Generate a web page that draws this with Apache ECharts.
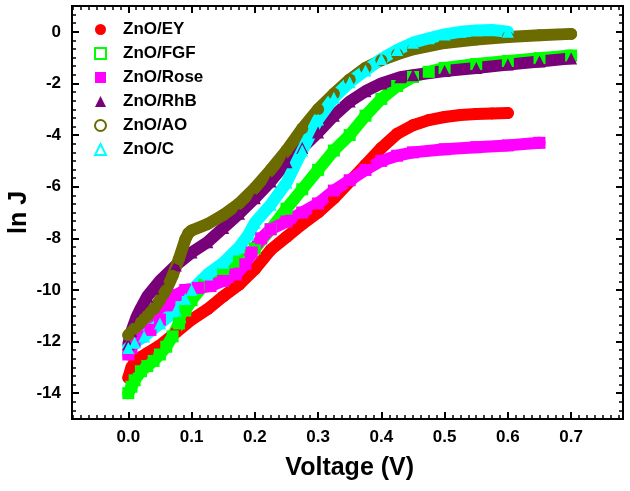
<!DOCTYPE html>
<html>
<head>
<meta charset="utf-8">
<script src="https://cdn.jsdelivr.net/npm/echarts@6/dist/echarts.min.js"></script>
<style>
  html, body { margin: 0; padding: 0; background: #fff; }
  #chart { width: 630px; height: 491px; }
</style>
</head>
<body>
<div id="chart"></div>
<script>
// ln J versus applied voltage for ZnO films sensitised with different dyes
const seriesNames = ['ZnO/EY', 'ZnO/FGF', 'ZnO/Rose', 'ZnO/RhB', 'ZnO/AO', 'ZnO/C'];

const vEY   = [0, 0.005, 0.01, 0.02, 0.03, 0.05, 0.075, 0.10, 0.125, 0.15, 0.175, 0.20, 0.225, 0.25, 0.275, 0.30, 0.325, 0.35, 0.375, 0.40, 0.425, 0.45, 0.475, 0.50, 0.525, 0.55, 0.575, 0.60];
const lnjEY = [-13.4, -13.0, -12.8, -12.6, -12.45, -12.15, -11.65, -11.15, -10.75, -10.25, -9.8, -9.2, -8.45, -7.95, -7.45, -7.0, -6.45, -5.8, -5.15, -4.5, -3.95, -3.62, -3.42, -3.3, -3.22, -3.18, -3.16, -3.15];

const vFGF   = [0, 0.005, 0.01, 0.02, 0.03, 0.04, 0.05, 0.06, 0.07, 0.08, 0.09, 0.10, 0.12, 0.15, 0.175, 0.20, 0.225, 0.25, 0.275, 0.30, 0.325, 0.35, 0.375, 0.40, 0.425, 0.45, 0.475, 0.50, 0.55, 0.60, 0.65, 0.70];
const lnjFGF = [-14.0, -13.75, -13.5, -13.15, -12.95, -12.75, -12.5, -12.2, -11.8, -11.3, -10.8, -10.4, -9.8, -9.35, -8.9, -8.4, -7.65, -6.85, -6.1, -5.35, -4.6, -4.0, -3.25, -2.6, -2.1, -1.75, -1.55, -1.4, -1.25, -1.13, -1.02, -0.92];

const vRose   = [0, 0.005, 0.01, 0.02, 0.035, 0.05, 0.065, 0.075, 0.09, 0.11, 0.13, 0.15, 0.17, 0.185, 0.195, 0.21, 0.225, 0.25, 0.275, 0.30, 0.325, 0.35, 0.375, 0.40, 0.425, 0.45, 0.50, 0.55, 0.60, 0.65];
const lnjRose = [-12.5, -12.25, -12.0, -11.8, -11.55, -11.15, -10.6, -10.2, -10.0, -9.92, -9.85, -9.65, -9.4, -9.0, -8.55, -8.0, -7.65, -7.35, -7.0, -6.65, -6.15, -5.75, -5.35, -5.0, -4.8, -4.67, -4.55, -4.47, -4.4, -4.3];

const vRhB   = [0, 0.005, 0.013, 0.02, 0.03, 0.04, 0.05, 0.075, 0.10, 0.125, 0.15, 0.175, 0.20, 0.225, 0.25, 0.275, 0.30, 0.325, 0.35, 0.375, 0.40, 0.43, 0.45, 0.50, 0.55, 0.60, 0.65, 0.70];
const lnjRhB = [-12.1, -11.6, -11.05, -10.7, -10.25, -9.95, -9.65, -9.05, -8.55, -8.15, -7.6, -7.05, -6.45, -5.8, -5.05, -4.5, -3.9, -3.25, -2.7, -2.3, -2.0, -1.76, -1.68, -1.52, -1.4, -1.27, -1.15, -1.03];

const vAO   = [0, 0.01, 0.02, 0.03, 0.04, 0.05, 0.06, 0.07, 0.08, 0.09, 0.095, 0.10, 0.125, 0.15, 0.175, 0.20, 0.225, 0.25, 0.275, 0.30, 0.325, 0.35, 0.375, 0.40, 0.425, 0.45, 0.50, 0.55, 0.60, 0.65, 0.70];
const lnjAO = [-11.75, -11.5, -11.25, -11.0, -10.75, -10.4, -10.0, -9.45, -8.8, -8.05, -7.8, -7.7, -7.45, -7.1, -6.65, -6.05, -5.35, -4.6, -3.75, -3.0, -2.4, -1.85, -1.4, -1.1, -0.87, -0.68, -0.43, -0.3, -0.2, -0.13, -0.08];

const vC   = [0, 0.01, 0.025, 0.05, 0.075, 0.09, 0.10, 0.125, 0.15, 0.175, 0.19, 0.20, 0.225, 0.25, 0.275, 0.30, 0.325, 0.35, 0.375, 0.40, 0.425, 0.45, 0.475, 0.50, 0.525, 0.55, 0.575, 0.60];
const lnjC = [-12.25, -12.05, -11.8, -11.3, -10.8, -10.35, -10.0, -9.4, -8.95, -8.35, -7.85, -7.4, -6.7, -5.85, -4.6, -3.4, -2.55, -1.95, -1.5, -1.05, -0.7, -0.42, -0.25, -0.1, 0.0, 0.05, 0.07, 0.0];

const seriesV   = [vEY, vFGF, vRose, vRhB, vAO, vC];
const seriesLnJ = [lnjEY, lnjFGF, lnjRose, lnjRhB, lnjAO, lnjC];
const seriesColors  = ['#ff0000', '#00ff00', '#ff00ff', '#780078', '#6b6b00', '#00ffff'];
// legend markers (hollow where the key shows open symbols)
const legendSymbols = ['circle', 'emptyRect', 'rect', 'triangle', 'emptyCircle', 'emptyTriangle'];
// markers along the dense curves, which merge into a solid band
const curveSymbols  = ['circle', 'rect', 'rect', 'triangle', 'circle', 'triangle'];

// axis ranges and tick steps
const X_RANGE = [-0.089, 0.782];
const Y_RANGE = [-15, 1];
const X_MAJOR = [0, 0.7, 0.1];     // labelled ticks: from, to, step
const Y_MAJOR = [-14, 0, 2];
const X_MINOR_STEP = 0.0125;       // 8 sub-intervals per 0.1 V
const X_MINOR = [-0.0875, 0.775];
const Y_MINOR_DIV = 3;             // minor ticks every 1/3 unit

// plot frame in pixels
const FRAME = { left: 72, top: 6, right: 623, bottom: 419 };
const FONT = '"Liberation Sans", Arial, Helvetica, sans-serif';

function px(v) {
  return FRAME.left + (v - X_RANGE[0]) / (X_RANGE[1] - X_RANGE[0]) * (FRAME.right - FRAME.left);
}
function py(v) {
  return FRAME.bottom - (v - Y_RANGE[0]) / (Y_RANGE[1] - Y_RANGE[0]) * (FRAME.bottom - FRAME.top);
}

const chart = echarts.init(document.getElementById('chart'), null, { renderer: 'canvas' });

const frameH = FRAME.bottom - FRAME.top;
const minorL = px(X_MINOR[0]), minorR = px(X_MINOR[1]);
const majL = px(X_MAJOR[0]), majR = px(X_MAJOR[1]);
const majT = py(Y_MAJOR[1]), majB = py(Y_MAJOR[0]);

const minorTick = { show: true, inside: true, length: 4, lineStyle: { color: '#000', width: 1.5 } };
const majorTick = { show: true, inside: true, length: 7, lineStyle: { color: '#000', width: 2 } };
const noLine = { show: false, onZero: false };
const labelStyle = { color: '#000', fontFamily: FONT, fontWeight: 'bold', fontSize: 17 };

const xMinorAxis = (pos) => ({
  gridIndex: 1, type: 'value', position: pos,
  min: Math.round(X_MINOR[0] / X_MINOR_STEP), max: Math.round(X_MINOR[1] / X_MINOR_STEP), interval: 1,
  axisLine: noLine, axisTick: minorTick, axisLabel: { show: false }, splitLine: { show: false }
});
const yMinorAxis = (pos, off) => ({
  gridIndex: 1, type: 'value', position: pos, offset: off,
  min: Y_RANGE[0] * Y_MINOR_DIV, max: Y_RANGE[1] * Y_MINOR_DIV, interval: 1,
  axisLine: noLine, axisTick: minorTick, axisLabel: { show: false }, splitLine: { show: false }
});

const series = seriesNames.map((name, i) => ({
  name: name,
  type: 'line',
  xAxisIndex: 0,
  yAxisIndex: 0,
  data: seriesV[i].map((v, k) => [v, seriesLnJ[i][k]]),
  symbol: curveSymbols[i],
  symbolSize: 12,
  showAllSymbol: true,
  lineStyle: { color: seriesColors[i], width: 12, cap: 'round', join: 'round' },
  itemStyle: { color: seriesColors[i], borderColor: seriesColors[i], borderWidth: 0 },
  emphasis: { disabled: true },
  clip: true
}));

const gridBase = { outerBoundsMode: 'none', containLabel: false };

chart.setOption({
  animation: false,
  backgroundColor: '#fff',
  grid: [
    Object.assign({ left: FRAME.left, top: FRAME.top, width: FRAME.right - FRAME.left, height: frameH,
      show: true, borderColor: '#000', borderWidth: 2, backgroundColor: 'transparent' }, gridBase),
    Object.assign({ left: minorL, top: FRAME.top, width: minorR - minorL, height: frameH }, gridBase),
    Object.assign({ left: majL, top: majT, width: majR - majL, height: majB - majT }, gridBase)
  ],
  xAxis: [
    { gridIndex: 0, type: 'value', min: X_RANGE[0], max: X_RANGE[1], show: false, axisLine: noLine },
    xMinorAxis('bottom'),
    xMinorAxis('top'),
    {
      gridIndex: 2, type: 'value', position: 'bottom', offset: FRAME.bottom - majB,
      min: X_MAJOR[0], max: X_MAJOR[1], interval: X_MAJOR[2],
      axisLine: noLine, axisTick: majorTick, splitLine: { show: false },
      axisLabel: Object.assign({ margin: 10, formatter: (v) => v.toFixed(1) }, labelStyle),
      name: 'Voltage (V)', nameLocation: 'middle', nameGap: 37,
      nameTextStyle: { color: '#000', fontFamily: FONT, fontWeight: 'bold', fontSize: 25 }
    },
    {
      gridIndex: 2, type: 'value', position: 'top', offset: majT - FRAME.top,
      min: X_MAJOR[0], max: X_MAJOR[1], interval: X_MAJOR[2],
      axisLine: noLine, axisTick: majorTick, axisLabel: { show: false }, splitLine: { show: false }
    }
  ],
  yAxis: [
    { gridIndex: 0, type: 'value', min: Y_RANGE[0], max: Y_RANGE[1], show: false, axisLine: noLine },
    yMinorAxis('left', minorL - FRAME.left),
    yMinorAxis('right', FRAME.right - minorR),
    {
      gridIndex: 2, type: 'value', position: 'left', offset: majL - FRAME.left,
      min: Y_MAJOR[0], max: Y_MAJOR[1], interval: Y_MAJOR[2],
      axisLine: noLine, axisTick: majorTick, splitLine: { show: false },
      axisLabel: Object.assign({ margin: 11 }, labelStyle),
      name: 'ln J', nameLocation: 'middle', nameGap: 40, nameMoveOverlap: false,
      nameTextStyle: { color: '#000', fontFamily: FONT, fontWeight: 'bold', fontSize: 25 }
    },
    {
      gridIndex: 2, type: 'value', position: 'right', offset: FRAME.right - majR,
      min: Y_MAJOR[0], max: Y_MAJOR[1], interval: Y_MAJOR[2],
      axisLine: noLine, axisTick: majorTick, axisLabel: { show: false }, splitLine: { show: false }
    }
  ],
  legend: {
    orient: 'vertical',
    left: 94,
    top: 20.5,
    padding: 0,
    itemWidth: 11,
    itemHeight: 11,
    itemGap: 6,
    selectedMode: false,
    data: seriesNames.map((n, i) => ({ name: n, icon: legendSymbols[i] })),
    textStyle: { color: '#000', fontFamily: FONT, fontWeight: 'bold', fontSize: 17, lineHeight: 18,
                 padding: [0, 0, 0, 12] }
  },
  series: series
});
</script>
</body>
</html>
